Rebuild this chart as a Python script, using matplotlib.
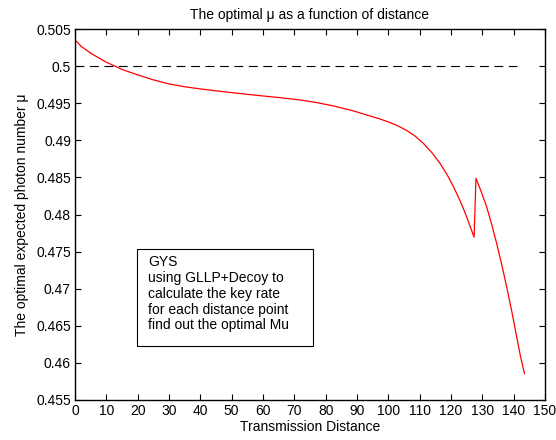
import numpy as np
import matplotlib
matplotlib.use("Agg")
import matplotlib.pyplot as plt
from matplotlib.patches import Rectangle

# distance (x) and optimal mu
dist = [0, 2, 5, 8, 10, 12.7, 15, 20, 25, 30, 35, 40, 45, 50, 55, 60, 65,
        71.7, 77, 82.4, 88, 93.1, 97, 100.5, 103, 105.9, 108.5, 111.2,
        114, 116.5, 118.7, 120.8, 122.9, 124, 125, 126, 127.4, 128, 129.7,
        131.4, 133, 134.6, 136.2, 137.8, 139.4, 141, 142.3, 143.5]
mu = [0.50354, 0.50265, 0.50175, 0.50100, 0.50053, 0.50000, 0.49955,
      0.49882, 0.49815, 0.49760, 0.49722, 0.49693, 0.49667, 0.49643,
      0.49620, 0.49598, 0.49577, 0.49545, 0.49510, 0.49464, 0.49407,
      0.49342, 0.49293, 0.49241, 0.49196, 0.49132, 0.49059, 0.48959,
      0.48830, 0.48690, 0.48543, 0.48377, 0.48188, 0.48078, 0.47970,
      0.47855, 0.47695, 0.48488, 0.48305, 0.48105, 0.47870, 0.47611,
      0.47330, 0.47025, 0.46700, 0.46350, 0.46070, 0.45856]
ref_x = [0, 141]
ref_y = [0.5, 0.5]

xticks = np.arange(0, 151, 10)
yticks = np.arange(0.455, 0.5051, 0.005)
note = ("GYS\nusing GLLP+Decoy to\ncalculate the key rate\n"
        "for each distance point\nfind out the optimal Mu")

plt.rcParams['font.family'] = ['Liberation Sans', 'DejaVu Sans']
plt.rcParams['font.size'] = 10

fig = plt.figure(figsize=(5.56, 4.4), dpi=100)
ax = fig.add_axes([0.135, 0.091, 0.845, 0.843])

ax.plot(dist, mu, color='red', lw=0.9)
ax.plot(ref_x, ref_y, color='black', lw=0.8, dashes=(8, 5))

ax.set_xlim(0, 150)
ax.set_ylim(0.455, 0.505)
ax.set_xticks(xticks)
ax.set_yticks(yticks)
ax.set_xticklabels([str(v) for v in xticks])
ax.set_yticklabels([("%.3f" % v).rstrip('0').rstrip('.') for v in yticks])
ax.tick_params(direction='in', top=True, right=True, length=4, width=0.8,
               pad=3, labelsize=10)
for s in ax.spines.values():
    s.set_linewidth(1.0)

ax.set_title("The optimal \u03bc as a function of distance", fontsize=10, pad=7)
ax.set_xlabel("Transmission Distance", fontsize=10, labelpad=1)
ax.set_ylabel("The optimal expected photon number \u03bc", fontsize=10,
              labelpad=5)

# note box
ax.add_patch(Rectangle((0.132, 0.146), 0.374, 0.261, transform=ax.transAxes,
                       fill=False, edgecolor='black', lw=0.8))
ax.text(0.156, 0.391, note, transform=ax.transAxes, va='top', ha='left',
        fontsize=10, linespacing=1.17)

fig.savefig("out.png", dpi=100)
